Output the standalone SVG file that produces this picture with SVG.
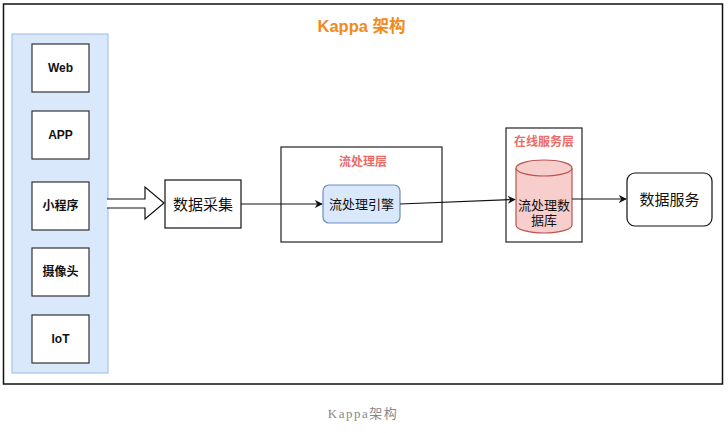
<svg xmlns="http://www.w3.org/2000/svg" width="728" height="433" viewBox="0 0 728 433">
<defs>
<style>
.t{font-family:"Liberation Sans","Noto Sans CJK SC",sans-serif;text-anchor:middle;dominant-baseline:central}
.src rect{fill:#fff;stroke:#333;stroke-width:1.2}
.src text{font-size:12px;font-weight:bold;fill:#111}
.red{fill:#ea6b66;font-size:12px;font-weight:bold}
.ln{stroke:#111;stroke-width:1.2;fill:none}
</style>
<marker id="ah" viewBox="0 0 10 10" refX="9" refY="5" markerWidth="8" markerHeight="8" orient="auto" markerUnits="userSpaceOnUse"><path d="M0,0 L10,5 L0,10 L3,5 Z" fill="#111"/></marker>
</defs>
<rect width="728" height="433" fill="#fff"/>
<rect x="3.5" y="4" width="719" height="380" fill="#fff" stroke="#111" stroke-width="1.5"/>
<text class="t" x="361.5" y="26" font-size="16.5" font-weight="bold" fill="#f08a1c">Kappa 架构</text>
<g id="sources" class="src">
<rect x="12" y="34" width="96" height="339" style="fill:#dae8fc;stroke:#a9c4eb;stroke-width:1.2"/>
<g id="web"><rect x="32" y="44" width="57" height="48"/><text class="t" x="60.5" y="68">Web</text></g>
<g id="app"><rect x="32" y="111" width="57" height="48"/><text class="t" x="60.5" y="135">APP</text></g>
<g id="miniprogram"><rect x="32" y="182" width="57" height="48"/><text class="t" x="60.5" y="206">小程序</text></g>
<g id="camera"><rect x="32" y="248" width="57" height="48"/><text class="t" x="60.5" y="272">摄像头</text></g>
<g id="iot"><rect x="32" y="315" width="57" height="48"/><text class="t" x="60.5" y="339">IoT</text></g>
</g>
<g id="collect"><rect x="165" y="180" width="76" height="48" fill="#fff" stroke="#111" stroke-width="1.2"/><text class="t" x="203" y="204" font-size="15" fill="#111">数据采集</text></g>
<g id="stream-layer"><rect x="281" y="147" width="161" height="95" fill="#fff" stroke="#333" stroke-width="1.3"/><text class="t red" x="363" y="162">流处理层</text></g>
<g id="engine"><rect x="323" y="185" width="77" height="38" rx="6" fill="#dae8fc" stroke="#6c8ebf" stroke-width="1.2"/><text class="t" x="361.5" y="204" font-size="13" fill="#111">流处理引擎</text></g>
<g id="online-layer"><rect x="506" y="128" width="76" height="114" fill="#fff" stroke="#333" stroke-width="1.3"/><text class="t red" x="544" y="142">在线服务层</text></g>
<g id="db">
<path d="M516,168 L516,225 A28,8 0 0 0 572,225 L572,168" fill="#f8cecc" stroke="#b85450" stroke-width="1.2"/>
<ellipse cx="544" cy="168" rx="28" ry="8" fill="#f8cecc" stroke="#b85450" stroke-width="1.2"/>
<text class="t" x="544" y="205" font-size="13" fill="#111">流处理数</text>
<text class="t" x="544" y="220.5" font-size="13" fill="#111">据库</text>
</g>
<g id="service"><rect x="627" y="173" width="85" height="53" rx="8" fill="#fff" stroke="#111" stroke-width="1.2"/><text class="t" x="669.5" y="199.5" font-size="15" fill="#111">数据服务</text></g>
<g id="connectors">
<path d="M107,199 L145,199 L145,187 L164,203 L145,219 L145,208 L107,208" fill="#fff" stroke="#111" stroke-width="1.2"/>
<line class="ln" x1="241" y1="204" x2="322" y2="204" marker-end="url(#ah)"/>
<line class="ln" x1="400" y1="204" x2="515" y2="199.5" marker-end="url(#ah)"/>
<line class="ln" x1="572" y1="199" x2="626" y2="199" marker-end="url(#ah)"/>
</g>
<text x="363" y="413" font-family="'Liberation Serif','Noto Sans CJK SC',serif" font-size="13" fill="#888" text-anchor="middle" dominant-baseline="central" letter-spacing="1.5">Kappa架构</text>
</svg>
